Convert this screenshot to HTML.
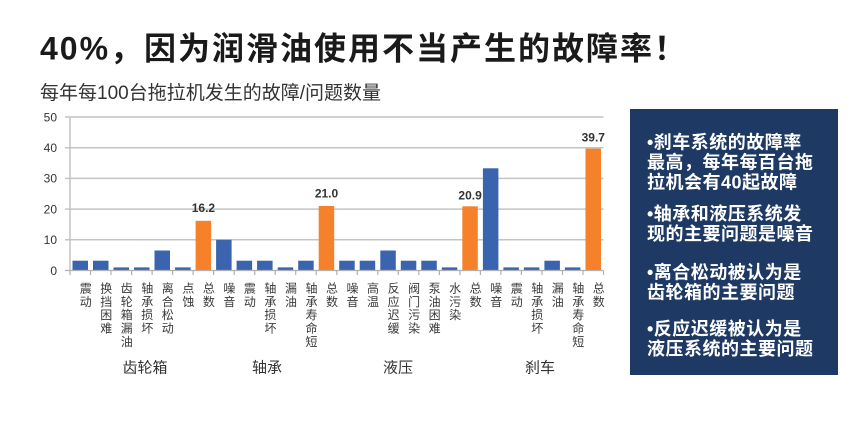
<!DOCTYPE html>
<html><head><meta charset="utf-8"><style>
html,body{margin:0;padding:0;background:#fff;}
svg{display:block;}
text{font-family:"Liberation Sans","Noto Sans CJK SC",sans-serif;}
</style></head><body>
<svg width="865" height="428" viewBox="0 0 865 428" xmlns="http://www.w3.org/2000/svg">
<rect width="865" height="428" fill="#fff"/>
<text x="40" y="59.5" font-size="32" font-weight="bold" fill="#1a1a1a" letter-spacing="2">40%，因为润滑油使用不当产生的故障率！</text>
<text x="40" y="99" font-size="19" fill="#333">每年每100台拖拉机发生的故障/问题数量</text>

<g stroke="#c4c4c4" stroke-width="1.5">
<line x1="65" y1="117" x2="603.5" y2="117"/>
<line x1="65" y1="147.7" x2="603.5" y2="147.7"/>
<line x1="65" y1="178.4" x2="603.5" y2="178.4"/>
<line x1="65" y1="209.1" x2="603.5" y2="209.1"/>
<line x1="65" y1="239.8" x2="603.5" y2="239.8"/>
<line x1="70" y1="117" x2="70" y2="270.5"/>
</g>
<g font-size="12" fill="#333" text-anchor="end">
<text x="57" y="121.3">50</text>
<text x="57" y="152">40</text>
<text x="57" y="182.7">30</text>
<text x="57" y="213.4">20</text>
<text x="57" y="244.1">10</text>
<text x="57" y="274.8">0</text>
</g>

<g fill="#3a64ad">
<rect x="72.5" y="260.7" width="15.5" height="9.8"/>
<rect x="93.0" y="260.7" width="15.5" height="9.8"/>
<rect x="113.5" y="267.4" width="15.5" height="3.1"/>
<rect x="134.0" y="267.4" width="15.5" height="3.1"/>
<rect x="154.5" y="250.5" width="15.5" height="20"/>
<rect x="175.1" y="267.4" width="15.5" height="3.1"/>
<rect x="216.1" y="239.8" width="15.5" height="30.7"/>
<rect x="236.6" y="260.7" width="15.5" height="9.8"/>
<rect x="257.1" y="260.7" width="15.5" height="9.8"/>
<rect x="277.7" y="267.4" width="15.5" height="3.1"/>
<rect x="298.2" y="260.7" width="15.5" height="9.8"/>
<rect x="339.2" y="260.7" width="15.5" height="9.8"/>
<rect x="359.7" y="260.7" width="15.5" height="9.8"/>
<rect x="380.3" y="250.5" width="15.5" height="20"/>
<rect x="400.8" y="260.7" width="15.5" height="9.8"/>
<rect x="421.3" y="260.7" width="15.5" height="9.8"/>
<rect x="441.8" y="267.4" width="15.5" height="3.1"/>
<rect x="482.9" y="168.3" width="15.5" height="102.2"/>
<rect x="503.4" y="267.4" width="15.5" height="3.1"/>
<rect x="523.9" y="267.4" width="15.5" height="3.1"/>
<rect x="544.4" y="260.7" width="15.5" height="9.8"/>
<rect x="564.9" y="267.4" width="15.5" height="3.1"/>
</g>
<g fill="#f5822b">
<rect x="195.6" y="220.8" width="15.5" height="49.7"/>
<rect x="318.7" y="206" width="15.5" height="64.5"/>
<rect x="462.3" y="206.3" width="15.5" height="64.2"/>
<rect x="585.5" y="148.6" width="15.5" height="121.9"/>
</g>
<g font-size="12" font-weight="bold" fill="#333" text-anchor="middle">
<text x="203.4" y="212">16.2</text>
<text x="326.5" y="197.5">21.0</text>
<text x="470.1" y="199.5">20.9</text>
<text x="593.3" y="141.5">39.7</text>
</g>

<g stroke="#b0b0b0" stroke-width="1.2">
<line x1="65" y1="270.5" x2="603.5" y2="270.5"/>
<line x1="70" y1="270.5" x2="70" y2="275"/>
<line x1="90.5" y1="270.5" x2="90.5" y2="275"/>
<line x1="111" y1="270.5" x2="111" y2="275"/>
<line x1="131.6" y1="270.5" x2="131.6" y2="275"/>
<line x1="152.1" y1="270.5" x2="152.1" y2="275"/>
<line x1="172.6" y1="270.5" x2="172.6" y2="275"/>
<line x1="193.1" y1="270.5" x2="193.1" y2="275"/>
<line x1="213.6" y1="270.5" x2="213.6" y2="275"/>
<line x1="234.2" y1="270.5" x2="234.2" y2="275"/>
<line x1="254.7" y1="270.5" x2="254.7" y2="275"/>
<line x1="275.2" y1="270.5" x2="275.2" y2="275"/>
<line x1="295.7" y1="270.5" x2="295.7" y2="275"/>
<line x1="316.2" y1="270.5" x2="316.2" y2="275"/>
<line x1="336.8" y1="270.5" x2="336.8" y2="275"/>
<line x1="357.3" y1="270.5" x2="357.3" y2="275"/>
<line x1="377.8" y1="270.5" x2="377.8" y2="275"/>
<line x1="398.3" y1="270.5" x2="398.3" y2="275"/>
<line x1="418.8" y1="270.5" x2="418.8" y2="275"/>
<line x1="439.4" y1="270.5" x2="439.4" y2="275"/>
<line x1="459.9" y1="270.5" x2="459.9" y2="275"/>
<line x1="480.4" y1="270.5" x2="480.4" y2="275"/>
<line x1="500.9" y1="270.5" x2="500.9" y2="275"/>
<line x1="521.4" y1="270.5" x2="521.4" y2="275"/>
<line x1="542" y1="270.5" x2="542" y2="275"/>
<line x1="562.5" y1="270.5" x2="562.5" y2="275"/>
<line x1="583" y1="270.5" x2="583" y2="275"/>
<line x1="603.5" y1="270.5" x2="603.5" y2="275"/>
</g>

<g font-size="12" fill="#3a3a3a" text-anchor="middle">
<text><tspan x="85.8" y="292.6">震</tspan><tspan x="85.8" y="305.9">动</tspan></text>
<text><tspan x="106.3" y="292.6">换</tspan><tspan x="106.3" y="305.9">挡</tspan><tspan x="106.3" y="319.2">困</tspan><tspan x="106.3" y="332.5">难</tspan></text>
<text><tspan x="126.8" y="292.6">齿</tspan><tspan x="126.8" y="305.9">轮</tspan><tspan x="126.8" y="319.2">箱</tspan><tspan x="126.8" y="332.5">漏</tspan><tspan x="126.8" y="345.8">油</tspan></text>
<text><tspan x="147.3" y="292.6">轴</tspan><tspan x="147.3" y="305.9">承</tspan><tspan x="147.3" y="319.2">损</tspan><tspan x="147.3" y="332.5">坏</tspan></text>
<text><tspan x="167.8" y="292.6">离</tspan><tspan x="167.8" y="305.9">合</tspan><tspan x="167.8" y="319.2">松</tspan><tspan x="167.8" y="332.5">动</tspan></text>
<text><tspan x="188.4" y="292.6">点</tspan><tspan x="188.4" y="305.9">蚀</tspan></text>
<text><tspan x="208.9" y="292.6">总</tspan><tspan x="208.9" y="305.9">数</tspan></text>
<text><tspan x="229.4" y="292.6">噪</tspan><tspan x="229.4" y="305.9">音</tspan></text>
<text><tspan x="249.9" y="292.6">震</tspan><tspan x="249.9" y="305.9">动</tspan></text>
<text><tspan x="270.4" y="292.6">轴</tspan><tspan x="270.4" y="305.9">承</tspan><tspan x="270.4" y="319.2">损</tspan><tspan x="270.4" y="332.5">坏</tspan></text>
<text><tspan x="291" y="292.6">漏</tspan><tspan x="291" y="305.9">油</tspan></text>
<text><tspan x="311.5" y="292.6">轴</tspan><tspan x="311.5" y="305.9">承</tspan><tspan x="311.5" y="319.2">寿</tspan><tspan x="311.5" y="332.5">命</tspan><tspan x="311.5" y="345.8">短</tspan></text>
<text><tspan x="332" y="292.6">总</tspan><tspan x="332" y="305.9">数</tspan></text>
<text><tspan x="352.5" y="292.6">噪</tspan><tspan x="352.5" y="305.9">音</tspan></text>
<text><tspan x="373" y="292.6">高</tspan><tspan x="373" y="305.9">温</tspan></text>
<text><tspan x="393.6" y="292.6">反</tspan><tspan x="393.6" y="305.9">应</tspan><tspan x="393.6" y="319.2">迟</tspan><tspan x="393.6" y="332.5">缓</tspan></text>
<text><tspan x="414.1" y="292.6">阀</tspan><tspan x="414.1" y="305.9">门</tspan><tspan x="414.1" y="319.2">污</tspan><tspan x="414.1" y="332.5">染</tspan></text>
<text><tspan x="434.6" y="292.6">泵</tspan><tspan x="434.6" y="305.9">油</tspan><tspan x="434.6" y="319.2">困</tspan><tspan x="434.6" y="332.5">难</tspan></text>
<text><tspan x="455.1" y="292.6">水</tspan><tspan x="455.1" y="305.9">污</tspan><tspan x="455.1" y="319.2">染</tspan></text>
<text><tspan x="475.6" y="292.6">总</tspan><tspan x="475.6" y="305.9">数</tspan></text>
<text><tspan x="496.2" y="292.6">噪</tspan><tspan x="496.2" y="305.9">音</tspan></text>
<text><tspan x="516.7" y="292.6">震</tspan><tspan x="516.7" y="305.9">动</tspan></text>
<text><tspan x="537.2" y="292.6">轴</tspan><tspan x="537.2" y="305.9">承</tspan><tspan x="537.2" y="319.2">损</tspan><tspan x="537.2" y="332.5">坏</tspan></text>
<text><tspan x="557.7" y="292.6">漏</tspan><tspan x="557.7" y="305.9">油</tspan></text>
<text><tspan x="578.2" y="292.6">轴</tspan><tspan x="578.2" y="305.9">承</tspan><tspan x="578.2" y="319.2">寿</tspan><tspan x="578.2" y="332.5">命</tspan><tspan x="578.2" y="345.8">短</tspan></text>
<text><tspan x="598.8" y="292.6">总</tspan><tspan x="598.8" y="305.9">数</tspan></text>
</g>

<g font-size="15" fill="#333" text-anchor="middle">
<text x="145" y="372.7">齿轮箱</text>
<text x="267" y="372.7">轴承</text>
<text x="398" y="372.7">液压</text>
<text x="540" y="372.7">刹车</text>
</g>

<rect x="630" y="109" width="208" height="266" fill="#1e3a64"/>
<g font-size="18" font-weight="bold" fill="#fff" letter-spacing="0.5">
<text x="647" y="148.5">•刹车系统的故障率</text>
<text x="647" y="168.5">最高，每年每百台拖</text>
<text x="647" y="188.5">拉机会有40起故障</text>
<text x="647" y="220">•轴承和液压系统发</text>
<text x="647" y="240">现的主要问题是噪音</text>
<text x="647" y="278.5">•离合松动被认为是</text>
<text x="647" y="298.5">齿轮箱的主要问题</text>
<text x="647" y="335">•反应迟缓被认为是</text>
<text x="647" y="355">液压系统的主要问题</text>
</g>
</svg>
</body></html>
